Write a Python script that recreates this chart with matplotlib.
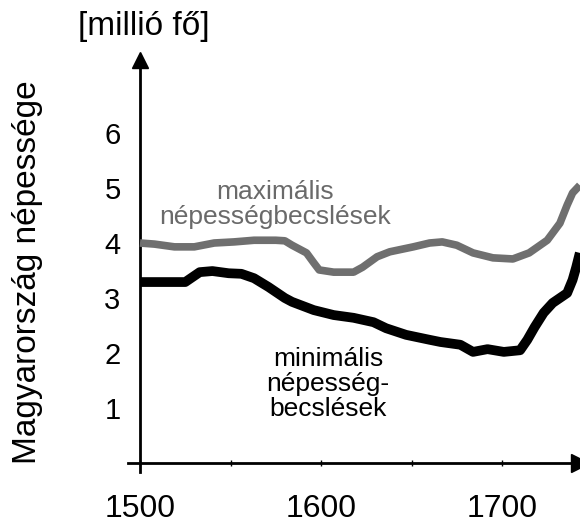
import matplotlib
matplotlib.use("Agg")
import matplotlib.pyplot as plt

plt.rcParams['font.family'] = ['Liberation Sans', 'DejaVu Sans']

# Data
max_years = [1500, 1508, 1519, 1530, 1541, 1552, 1563, 1575, 1580, 1584, 1592,
             1596, 1599, 1607, 1618, 1623, 1631, 1638, 1651, 1660, 1667, 1675,
             1684, 1695, 1706, 1715, 1725, 1732, 1736, 1739, 1743]
max_values = [4.0, 3.98, 3.93, 3.93, 4.0, 4.02, 4.05, 4.05, 4.04, 3.96, 3.82,
              3.64, 3.51, 3.47, 3.47, 3.56, 3.75, 3.84, 3.93, 4.0, 4.02, 3.96,
              3.82, 3.73, 3.71, 3.82, 4.05, 4.36, 4.69, 4.91, 5.05]

min_years = [1500, 1525, 1529, 1533, 1540, 1549, 1556, 1563, 1571, 1580, 1584,
             1596, 1607, 1618, 1629, 1636, 1647, 1660, 1666, 1677, 1684, 1692,
             1701, 1710, 1714, 1718, 1723, 1728, 1736, 1739, 1741, 1743]
min_values = [3.29, 3.29, 3.38, 3.47, 3.49, 3.45, 3.44, 3.36, 3.2, 3.0, 2.93,
              2.78, 2.69, 2.64, 2.56, 2.45, 2.33, 2.24, 2.2, 2.15, 2.02, 2.07,
              2.02, 2.05, 2.24, 2.47, 2.73, 2.91, 3.09, 3.33, 3.56, 3.82]

x_ticks = [1500, 1600, 1700]
x_minor = [1550, 1650]
y_ticks = [1, 2, 3, 4, 5, 6]

W, H = 580, 524
fig = plt.figure(figsize=(W / 100, H / 100), dpi=100)

# axes in pixel terms: x 1500 at px 140, 181 px per century; y 0 at px 463, 55 px per unit
left_px, right_px = 128, 580
top_px, bottom_px = 60, 472
ax = fig.add_axes([left_px / W, 1 - bottom_px / H, (right_px - left_px) / W, (bottom_px - top_px) / H])
ax.set_xlim(1500 - (140 - left_px) / 1.81, 1500 + (right_px - 140) / 1.81)
ax.set_ylim(-(bottom_px - 463) / 55, (463 - top_px) / 55)

ax.plot(max_years, max_values, color='#6f6f6f', lw=5.5, solid_capstyle='butt',
        solid_joinstyle='round', clip_on=False, zorder=3)
ax.plot(min_years, min_values, color='black', lw=7, solid_capstyle='butt',
        solid_joinstyle='round', clip_on=False, zorder=3)

for s in ['top', 'right']:
    ax.spines[s].set_visible(False)
ax.spines['left'].set_position(('data', 1500))
ax.spines['bottom'].set_position(('data', 0))
ax.spines['left'].set_linewidth(2)
ax.spines['bottom'].set_linewidth(2)

ax.plot(1, 0, '>k', ms=13, transform=ax.get_yaxis_transform(), clip_on=False, zorder=5)
ax.plot(1500, 1, '^k', ms=11, transform=ax.get_xaxis_transform(), clip_on=False, zorder=5)

ax.set_xticks(x_ticks)
ax.set_xticklabels([str(t) for t in x_ticks])
ax.set_xticks(x_minor, minor=True)
ax.tick_params(axis='x', which='both', direction='inout', length=5, width=1, pad=20, labelsize=23)
ax.set_yticks(y_ticks)
ax.set_yticklabels([str(t) for t in y_ticks])
ax.tick_params(axis='y', length=0, pad=14, labelsize=21)

ax.text(1574.5, 4.70, 'maximális\nnépességbecslések', color='#6a6a6a', fontsize=19,
        ha='center', va='center', linespacing=1.05)
ax.text(1604, 1.44, 'minimális\nnépesség-\nbecslések', color='black', fontsize=19,
        ha='center', va='center', linespacing=1.05)

fig.text(28 / W, 1 - 272 / H, 'Magyarország népessége', rotation=90, fontsize=24,
         ha='center', va='center')
fig.text(144 / W, 1 - 26 / H, '[millió fő]', fontsize=24, ha='center', va='center')

fig.savefig('out.png', dpi=100)
